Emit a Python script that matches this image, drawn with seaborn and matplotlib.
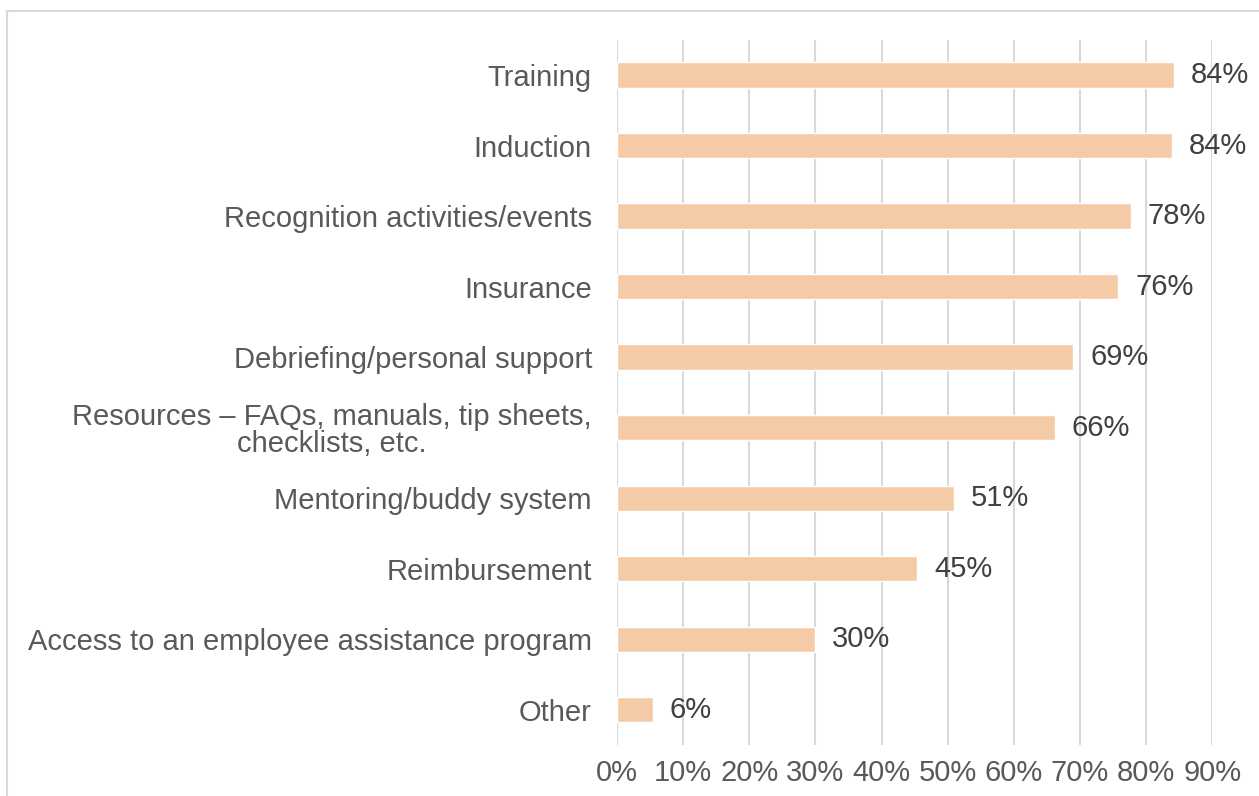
import matplotlib
matplotlib.use("Agg")
import matplotlib.pyplot as plt
from matplotlib.lines import Line2D
import seaborn as sns
import pandas as pd

categories = [
    "Training",
    "Induction",
    "Recognition activities/events",
    "Insurance",
    "Debriefing/personal support",
    "Resources – FAQs, manuals, tip sheets,\nchecklists, etc.",
    "Mentoring/buddy system",
    "Reimbursement",
    "Access to an employee assistance program",
    "Other",
]
values = [84.2, 83.9, 77.7, 75.8, 69.0, 66.2, 50.9, 45.4, 30.0, 5.5]
labels = ["84%", "84%", "78%", "76%", "69%", "66%", "51%", "45%", "30%", "6%"]
xticks = list(range(0, 100, 10))

sns.set_theme(style="white")
plt.rcParams["font.family"] = ["Liberation Sans", "DejaVu Sans"]

df = pd.DataFrame({"category": categories, "value": values})

fig = plt.figure(figsize=(12.59, 7.96), dpi=100)
ax = fig.add_axes([0.490, 0.064, 0.473, 0.886])

sns.barplot(data=df, x="value", y="category", orient="h", color="#F5CBA7",
            saturation=1, width=0.36, ax=ax)

for i, (v, lab) in enumerate(zip(values, labels)):
    ax.annotate(lab, (v, i), xytext=(12, 0), textcoords="offset points",
                va="center", ha="left", fontsize=21, color="#404040")

ax.set_xlim(0, 90)
ax.set_ylim(9.5, -0.5)
ax.set_xticks(xticks)
ax.set_xticklabels([f"{t}%" for t in xticks])
ax.set_xlabel("")
ax.set_ylabel("")
ax.tick_params(axis="both", length=0, labelsize=21, labelcolor="#595959")
ax.tick_params(axis="y", pad=18)
ax.tick_params(axis="x", pad=10)
ax.grid(axis="x", color="#D9D9D9", linewidth=1.5)
ax.set_axisbelow(True)
for s in ax.spines.values():
    s.set_visible(False)
for t in ax.get_yticklabels():
    t.set_multialignment("center")
    t.set_linespacing(0.95)

# outer chart frame
fig.add_artist(Line2D([0.0056, 0.0056], [0, 0.986], color="#D9D9D9", linewidth=1.5))
fig.add_artist(Line2D([0.0056, 1.0], [0.986, 0.986], color="#D9D9D9", linewidth=1.5))

fig.savefig("out.png", dpi=100)
